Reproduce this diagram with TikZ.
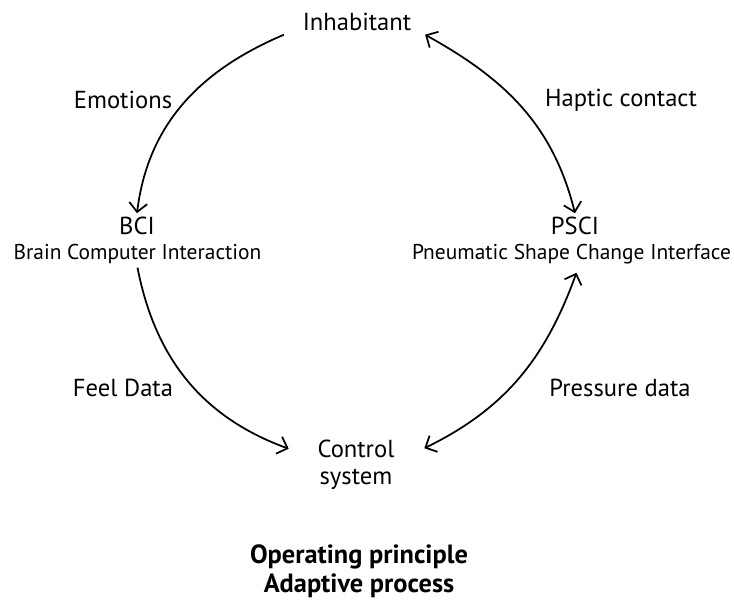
\documentclass[tikz,border=0pt]{standalone}
\usepackage{fontspec}
\setsansfont{PT Sans}
\usetikzlibrary{positioning, arrows.meta}

\begin{document}
\begin{tikzpicture}[
  font=\sffamily,
  mainlbl/.style={inner sep=2pt, font=\sffamily\fontsize{14}{15.5}\selectfont, align=center},
  sublbl/.style={inner sep=2pt, font=\sffamily\fontsize{12.2}{14}\selectfont},
  edgelbl/.style={inner sep=2pt, font=\sffamily\fontsize{14}{16}\selectfont},
  titlelbl/.style={inner sep=2pt, font=\sffamily\bfseries\fontsize{15}{16.5}\selectfont, align=center},
  flow/.style={-{Straight Barb[length=1.8mm, width=3.6mm]}, line width=1pt},
  both/.style={{Straight Barb[length=1.8mm, width=3.6mm]}-{Straight Barb[length=1.8mm, width=3.6mm]}, line width=1pt}
]
\useasboundingbox (0,0) rectangle (14.68,-12.02);

% --- the four stations of the loop ---
\node[mainlbl] (inhab) at (7.14,-0.44) {Inhabitant};
\node[mainlbl] (bci)   at (2.74,-4.52) {BCI};
\node[sublbl]  (bcitxt) at (2.75,-5.08) {Brain Computer Interaction};
\node[mainlbl] (psci)  at (11.5,-4.52) {PSCI};
\node[sublbl]  (pscitxt) at (11.43,-5.08) {Pneumatic Shape Change Interface};
\node[mainlbl] (ctrl)  at (7.12,-9.3) {Control\\system};

% --- edge labels ---
\node[edgelbl] (emo)   at (2.46,-2.0)  {Emotions};
\node[edgelbl] (hap)   at (12.42,-2.0) {Haptic contact};
\node[edgelbl] (feel)  at (2.46,-7.76) {Feel Data};
\node[edgelbl] (press) at (12.4,-7.76) {Pressure data};

% --- caption ---
\node[titlelbl] (title) at (7.18,-11.42) {Operating principle\\Adaptive process};

% loop connectors
\draw[flow] ([xshift=-0.3cm]inhab.south west) to[out=203, in=83] (bci.north);
\draw[both] ([xshift=0.2cm]inhab.south east) to[out=-29, in=104] (psci.north);
\draw[flow] (bcitxt.south) to[out=-79, in=160] ([xshift=-0.5cm, yshift=-0.25cm]ctrl.north west);
\draw[both] ([xshift=0.52cm, yshift=-0.24cm]ctrl.north east) to[out=26, in=250] ([xshift=0.1cm, yshift=-0.1cm]pscitxt.south);

\end{tikzpicture}
\end{document}
